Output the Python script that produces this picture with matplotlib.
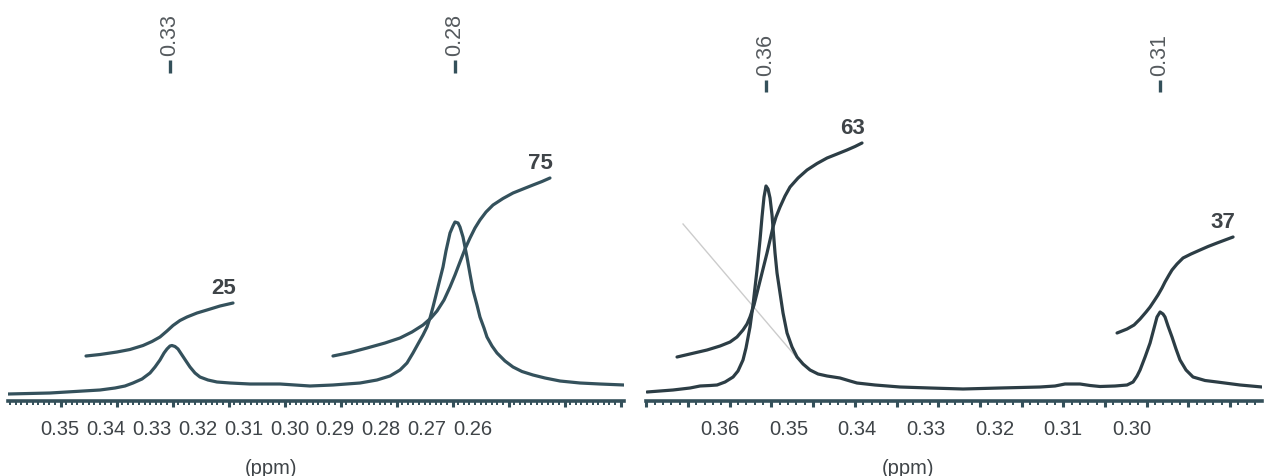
import matplotlib
matplotlib.use("Agg")
import matplotlib.pyplot as plt
from matplotlib.ticker import MultipleLocator, FixedLocator, FormatStrFormatter

# ---------------- data ----------------
# Left spectrum (ppm, intensity)
left_ppm = [0.35941, 0.35191, 0.34298, 0.34030, 0.33852, 0.33709, 0.33548, 0.33405,
            0.33316, 0.33227, 0.33155, 0.33102, 0.33048, 0.33013, 0.32959, 0.32905,
            0.32834, 0.32763, 0.32691, 0.32602, 0.32513, 0.32370, 0.32209, 0.31977,
            0.31620, 0.31084, 0.30548, 0.30138, 0.29655, 0.29352, 0.29120, 0.28941,
            0.28816, 0.28709, 0.28620, 0.28530, 0.28459, 0.28405, 0.28352, 0.28298,
            0.28245, 0.28173, 0.28120, 0.28048, 0.27995, 0.27959, 0.27905, 0.27870,
            0.27816, 0.27745, 0.27691, 0.27638, 0.27566, 0.27513, 0.27441, 0.27388,
            0.27298, 0.27209, 0.27066, 0.26923, 0.26763, 0.26566, 0.26352, 0.26084,
            0.25727, 0.25370, 0.24941]
left_int = [7, 8, 11, 13, 15, 18, 22, 28,
            34, 41, 48, 52, 55, 55.5, 54.5, 52,
            46, 40, 34, 28, 24, 21, 19, 18,
            17, 17, 15, 16, 18, 21, 25, 31,
            38, 48, 57, 66, 74, 83, 94, 106,
            118, 134, 150, 168, 175, 179, 178, 174,
            164, 144, 127, 111, 96, 84, 73, 64,
            55, 48, 40, 34, 29.5, 26, 23, 20,
            18, 17, 16]

# Left integral curves
left_int1_ppm = [0.34548, 0.34298, 0.33995, 0.33763, 0.33530, 0.33370, 0.33227, 0.33102,
                 0.32995, 0.32870, 0.32745, 0.32566, 0.32388, 0.32155, 0.31923]
left_int1_val = [45, 46.5, 49, 51.5, 55.5, 59.5, 64, 70,
                 75.5, 80.5, 84, 88, 91, 95, 98]
left_int2_ppm = [0.30138, 0.29834, 0.29530, 0.29209, 0.28941, 0.28727, 0.28530, 0.28388,
                 0.28280, 0.28155, 0.28048, 0.27959, 0.27870, 0.27780, 0.27691, 0.27602,
                 0.27513, 0.27405, 0.27280, 0.27102, 0.26923, 0.26745, 0.26566, 0.26405,
                 0.26263]
left_int2_val = [45, 48.5, 53, 58, 63, 69, 76, 83,
                 90, 101, 114, 126, 139, 152, 163, 173,
                 181, 189, 196, 202.5, 208, 212, 216, 219.5,
                 223]
left_integrals = [25, 75]
left_peaks = [0.3305, 0.2796]
left_tick_labels = [0.35, 0.34, 0.33, 0.32, 0.31, 0.30, 0.29, 0.28, 0.27, 0.26]

# Right spectrum (ppm, intensity)
right_ppm = [0.36992, 0.36680, 0.36476, 0.36356, 0.36236, 0.36152, 0.36056, 0.35960,
             0.35901, 0.35841, 0.35805, 0.35757, 0.35721, 0.35673, 0.35637, 0.35613,
             0.35589, 0.35565, 0.35541, 0.35517, 0.35493, 0.35457, 0.35433, 0.35397,
             0.35361, 0.35313, 0.35253, 0.35193, 0.35121, 0.35037, 0.34941, 0.34833,
             0.34678, 0.34558, 0.34474, 0.34258, 0.33958, 0.33598, 0.33203, 0.32759,
             0.32279, 0.32100, 0.31980, 0.31800, 0.31680, 0.31560, 0.31380, 0.31236,
             0.31164, 0.31116, 0.31080, 0.31020, 0.30960, 0.30912, 0.30877, 0.30840,
             0.30805, 0.30781, 0.30745, 0.30697, 0.30649, 0.30601, 0.30529, 0.30445,
             0.30301, 0.30157, 0.29881, 0.29618]
right_int = [9, 11, 13, 15, 15.5, 16, 19, 24,
             30, 41, 53, 74, 96, 131, 161, 184,
             204, 215, 212, 203, 186, 148, 128, 108,
             88, 68, 54, 44, 37, 31, 27, 25,
             23, 20, 18, 16, 14, 13, 12, 13,
             14, 15, 17, 17, 15.5, 14.5, 15, 16,
             19, 25, 31, 44, 58, 73, 84, 89,
             87, 84, 75, 64, 52, 41, 31, 24,
             20.5, 19, 16, 14]

# Right integral curves
right_int1_ppm = [0.36632, 0.36452, 0.36272, 0.36116, 0.35996, 0.35913, 0.35841, 0.35793,
                  0.35757, 0.35709, 0.35673, 0.35613, 0.35553, 0.35517, 0.35481, 0.35445,
                  0.35397, 0.35337, 0.35277, 0.35181, 0.35073, 0.34953, 0.34833, 0.34713,
                  0.34594, 0.34498, 0.34414]
right_int1_val = [44, 47.5, 51, 55, 59, 64, 71, 77,
                  84, 96, 108, 128, 148, 161, 174, 184,
                  194, 205, 214, 223, 231, 237.5, 243, 247,
                  251, 254.5, 258]
right_int2_ppm = [0.31356, 0.31236, 0.31152, 0.31080, 0.31008, 0.30960, 0.30912, 0.30865,
                  0.30817, 0.30781, 0.30733, 0.30697, 0.30637, 0.30565, 0.30469, 0.30361,
                  0.30265, 0.30157, 0.30061, 0.29965]
right_int2_val = [68, 72, 76, 82, 89, 94, 100, 106,
                  113, 119, 126, 131, 137, 143, 147, 151,
                  154.5, 158, 161, 164]
right_integrals = [63, 37]
right_peaks = [0.3557, 0.3084]
right_tick_labels = [0.36, 0.35, 0.34, 0.33, 0.32, 0.31, 0.30]

# Thin reference line in the right panel
guide_ppm = [0.3656, 0.35193]
guide_val = [177, 43]

# ---------------- style ----------------
plt.rcParams['font.family'] = ['Liberation Sans', 'DejaVu Sans']
tick_size = 14.5

W, H = 1265, 476
fig = plt.figure(figsize=(W / 100, H / 100), dpi=100)

axis_col = '#34505a'
text_col = '#3f4448'
label_col = '#555a5e'

panels = [
    dict(rect=[8 / W, 75 / H, 616 / W, 401 / H], xlim=(0.35941, 0.24941),
         major=0.01, line='#34515c',
         spec=(left_ppm, left_int),
         integ=[(left_int1_ppm, left_int1_val), (left_int2_ppm, left_int2_val)],
         ivals=left_integrals, peaks=left_peaks, ticks=left_tick_labels,
         map=(0.06333, 0.81944), peak_y=(328, 341, 345), ppm_x=0.427),
    dict(rect=[646 / W, 75 / H, 616 / W, 401 / H], xlim=(0.37004, 0.29618),
         major=0.005, line='#2c3d45',
         spec=(right_ppm, right_int),
         integ=[(right_int1_ppm, right_int1_val), (right_int2_ppm, right_int2_val)],
         ivals=right_integrals, peaks=right_peaks, ticks=right_tick_labels,
         map=(0.06500, 0.82267), peak_y=(309, 321, 325), ppm_x=0.425),
]

axes = []
for p in panels:
    ax = fig.add_axes(p['rect'])
    axes.append(ax)
    ax.set_xlim(*p['xlim'])
    ax.set_ylim(0, 401)
    for s in ('left', 'right', 'top'):
        ax.spines[s].set_visible(False)
    ax.spines['bottom'].set_color(axis_col)
    ax.spines['bottom'].set_linewidth(2.6)
    ax.yaxis.set_visible(False)
    ax.xaxis.set_major_locator(MultipleLocator(p['major']))
    ax.xaxis.set_minor_locator(MultipleLocator(0.001))
    ax.tick_params(axis='x', which='major', direction='out', length=4.5, width=2.2,
                   color=axis_col, labelbottom=False)
    ax.tick_params(axis='x', which='minor', direction='out', length=3, width=1.4,
                   color=axis_col)
    ax.patch.set_visible(False)

    # spectrum
    ax.plot(*p['spec'], color=p['line'], lw=2.3, solid_capstyle='round',
            solid_joinstyle='round', zorder=3)
    # integral curves with their values
    for (xs, ys), val in zip(p['integ'], p['ivals']):
        ax.plot(xs, ys, color=p['line'], lw=2.3, solid_capstyle='round',
                solid_joinstyle='round', zorder=3)
        ax.annotate(str(val), xy=(xs[-1], ys[-1]), xytext=(-7, 10.5),
                    textcoords='offset points', ha='center', va='center',
                    fontsize=16, fontweight='bold', color=text_col)
    # peak labels
    y0, y1, yt = p['peak_y']
    for pk in p['peaks']:
        ax.plot([pk, pk], [y0, y1], color=axis_col, lw=2.4, solid_capstyle='butt',
                clip_on=False)
        ax.text(pk, yt, f'{pk:.2f}', rotation=90, ha='center', va='bottom',
                fontsize=15.5, color=label_col)

    # printed ppm scale beneath the axis
    a, b = p['map']
    sec = ax.secondary_xaxis('bottom',
                             functions=(lambda m, a=a, b=b: (m - a) / b,
                                        lambda L, a=a, b=b: a + b * L))
    sec.spines['bottom'].set_visible(False)
    sec.xaxis.set_major_locator(FixedLocator(p['ticks']))
    sec.xaxis.set_minor_locator(FixedLocator([]))
    sec.xaxis.set_major_formatter(FormatStrFormatter('%.2f'))
    sec.tick_params(axis='x', length=0, pad=14, labelsize=tick_size,
                    labelcolor=text_col)
    ax.text(p['ppm_x'], -0.168, '(ppm)', transform=ax.transAxes, ha='center',
            va='center', fontsize=tick_size, color=text_col)

# guide line on the right panel
axes[1].plot(guide_ppm, guide_val, color='#cccccc', lw=1.0, zorder=2)

fig.savefig('out.png', dpi=100)
